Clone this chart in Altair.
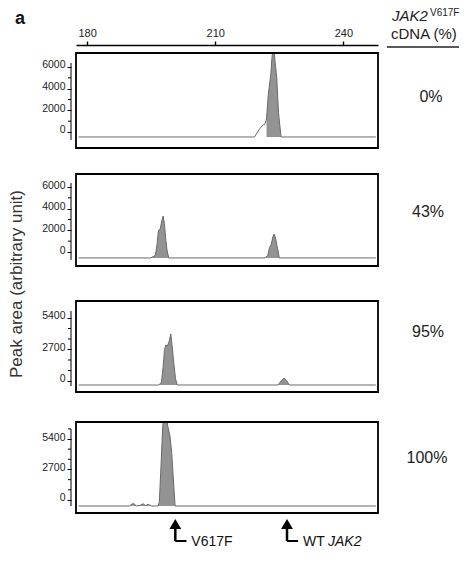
import altair as alt
import pandas as pd

FONT = "Liberation Sans"
WIDTH = 302
X_DOMAIN = [177.4, 248.1]
TOP_TICKS = [180, 210, 240]

pct_labels = ["0%", "43%", "95%", "100%"]

# ---- traces (fragment size vs peak area) ----
p1_x = [178.0, 219.2, 220.4, 221.2, 221.6, 222.0, 222.4, 223.0, 223.3, 223.7, 224.0, 224.4, 224.8, 225.4, 247.6]
p1_y = [-460, -460, 300, 650, 700, 1200, 3400, 5300, 7000, 8000, 6500, 5000, 1800, -460, -460]

p2_x = [178.0, 194.9, 196.0, 196.4, 196.7, 197.1, 197.5, 197.8, 198.1, 198.4, 198.7, 199.1,
        221.7, 222.3, 222.7, 223.1, 223.5, 223.8, 224.1, 224.5, 225.0, 247.6]
p2_y = [-550, -550, -300, 800, 2000, 2100, 2900, 3320, 2600, 1200, 200, -550,
        -550, -300, 400, 700, 1400, 1660, 1300, 500, -550, -550]

p3_x = [178.0, 196.8, 197.4, 197.8, 198.1, 198.4, 198.8, 199.2, 199.6, 199.9, 200.3, 200.7, 201.1,
        224.7, 225.4, 226.1, 226.7, 227.3, 247.6]
p3_y = [-343, -343, -100, 1200, 2600, 3085, 3000, 3400, 4030, 3000, 1500, 200, -343,
        -343, 0, 260, 50, -343, -343]

p4_x = [178.0, 189.9, 190.8, 191.6, 192.4, 193.1, 193.7, 194.3, 195.0, 196.6, 196.9, 197.3, 197.7,
        198.0, 198.4, 198.9, 199.4, 199.8, 200.0, 200.3, 200.6, 247.6]
p4_y = [-531, -531, -300, -531, -480, -330, -500, -380, -531, -531, -200, 3000, 6500,
        7500, 8000, 6500, 5660, 4200, 3000, 1200, -531, -531]

traces_x = [p1_x, p2_x, p3_x, p4_x]
traces_y = [p1_y, p2_y, p3_y, p4_y]
baselines = [-460, -550, -343, -531]
# the grey fill starts here (panel 1's small shoulder is left unfilled)
fill_from = [221.9, 178.0, 178.0, 178.0]

y_domains = [[-1477, 7292], [-1292, 7200], [-943, 6857], [-1151, 6905]]
major_ticks = [[0, 2000, 4000, 6000], [0, 2000, 4000, 6000], [0, 2700, 5400], [0, 2700, 5400]]
minor_ticks = [[1000, 3000, 5000],
               [1000, 3000, 5000],
               [900, 1800, 3600, 4500],
               [900, 1800, 3600, 4500, 6300]]
axis_extents = [[-738, 6369], [-738, 6369], [-428, 6000], [-531, 6283]]

arrow_pos = [200.65, 226.8]
arrow_labels = ["V617F", "WT"]

BOX_H = [95, 92, 91, 91]
PANEL_H = [121, 127, 121, 91]
PCT_POS = [(355, 44), (352, 38), (352, 31), (351, 36)]

one = pd.DataFrame({"k": [0]})


def txt(text, x, y, size=16, **kw):
    params = dict(text=text, font=FONT, fontSize=size, color="#222",
                  align="left", baseline="middle")
    params.update(kw)
    return alt.Chart(one).mark_text(**params).encode(x=alt.value(x), y=alt.value(y))


def panel(i):
    df = pd.DataFrame({"size": traces_x[i], "area": traces_y[i]})
    box_h = BOX_H[i]
    xscale = alt.Scale(domain=X_DOMAIN, nice=False, zero=False)
    if i == 0:
        xaxis = alt.Axis(orient="top", values=TOP_TICKS, offset=8, title=None,
                         domainColor="black", domainWidth=1.6, tickColor="black",
                         tickWidth=1.4, tickSize=4, labelFontSize=11, labelPadding=3,
                         labelColor="#222", labelFont=FONT, grid=False)
    else:
        xaxis = None
    yaxis = alt.Axis(values=major_ticks[i], domain=False, offset=5, title=None,
                     tickSize=4, tickColor="black", tickWidth=1, format="d",
                     labelOverlap=False, labelFontSize=10.5, labelPadding=2, labelOffset=-2,
                     labelColor="#222", labelFont=FONT, grid=False)
    x = alt.X("size:Q", scale=xscale, axis=xaxis)
    y = alt.Y("area:Q", scale=alt.Scale(domain=y_domains[i], range=[box_h, 0],
                                        nice=False, zero=False), axis=yaxis)
    base = alt.Chart(df)
    area = base.transform_filter("datum.size >= %f" % fill_from[i]).mark_area(
        color="#939393", clip=True).encode(x=x, y=y, y2=alt.datum(baselines[i]))
    line = base.mark_line(color="#6a6a6a", strokeWidth=1, clip=True).encode(x=x, y=y)
    minor = alt.Chart(pd.DataFrame({"area": minor_ticks[i]})).mark_rule(
        color="black", strokeWidth=1).encode(x=alt.value(-8), x2=alt.value(-5), y=y)
    box = alt.Chart(one).mark_rect(fillOpacity=0, stroke="black", strokeWidth=1.8).encode(
        x=alt.value(0), x2=alt.value(WIDTH), y=alt.value(0), y2=alt.value(box_h))
    axline = alt.Chart(one).mark_rule(color="black", strokeWidth=1).encode(
        x=alt.value(-5), y=alt.datum(axis_extents[i][0]), y2=alt.datum(axis_extents[i][1]))
    px, py = PCT_POS[i]
    pct = txt(pct_labels[i], px, py, align="center")
    layers = [area, line, minor, axline, box, pct]

    if i == 0:
        layers += [
            txt("a", -61, -34, size=18, fontWeight="bold", color="#111"),
            txt("JAK2", 316, -37.5, size=15, fontStyle="italic"),
            txt("V617F", 354, -40, size=10),
            txt("cDNA (%)", 315, -19, size=15),
            alt.Chart(one).mark_rule(color="#222", strokeWidth=1.5).encode(
                x=alt.value(311), x2=alt.value(383), y=alt.value(-6)),
        ]
    if i == 1:
        layers.append(txt("Peak area (arbitrary unit)", -59, 110, size=17, angle=270,
                          align="center", color="#333"))
    if i == 3:
        adf = pd.DataFrame({"pos": arrow_pos, "label": arrow_labels})
        ax = alt.X("pos:Q", scale=xscale, axis=None)
        abase = alt.Chart(adf)
        layers += [
            abase.mark_point(shape="triangle-up", filled=True, size=140, color="black",
                             opacity=1).encode(x=ax, y=alt.value(102)),
            abase.mark_rule(color="black", strokeWidth=2.5).encode(
                x=ax, y=alt.value(105), y2=alt.value(119)),
            abase.mark_rule(color="black", strokeWidth=2).transform_calculate(
                pos2="datum.pos + 2.6").encode(x=ax, x2="pos2:Q", y=alt.value(119)),
            abase.mark_text(font=FONT, fontSize=14, color="#111", align="left",
                            baseline="middle", dx=16).encode(
                x=ax, y=alt.value(120), text="label:N"),
            alt.Chart(adf.iloc[[1]]).mark_text(text="JAK2", font=FONT, fontSize=14,
                                               fontStyle="italic", color="#111",
                                               align="left", baseline="middle", dx=41).encode(
                x=ax, y=alt.value(120)),
        ]
    return alt.layer(*layers).properties(width=WIDTH, height=PANEL_H[i])


chart = alt.vconcat(*[panel(i) for i in range(4)], spacing=0, bounds="flush").resolve_scale(
    x="independent", y="independent"
).properties(padding=0).configure(background="white").configure_view(
    stroke="transparent", strokeWidth=0)

chart.save("out.html", embed_options={"renderer": "svg", "actions": False})
